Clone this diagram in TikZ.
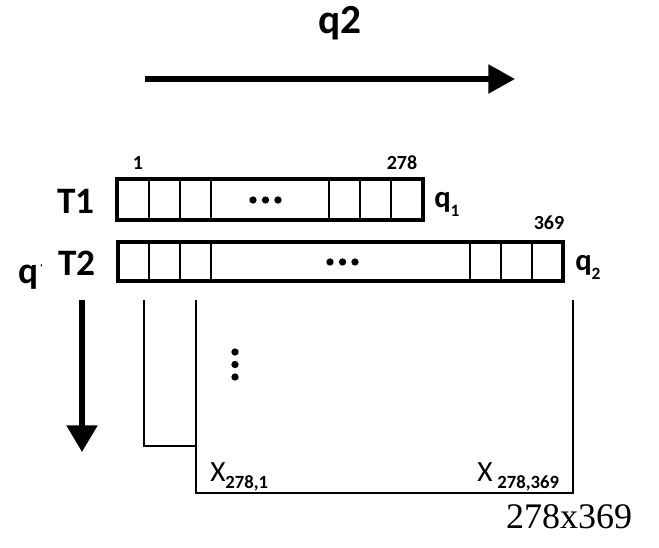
\documentclass[tikz,border=0pt]{standalone}
\usepackage{fontspec}
\newfontfamily\calfont{Carlito}
\newfontfamily\serfont{Liberation Serif}
\usetikzlibrary{arrows.meta}
\tikzset{
  big/.style={font=\calfont\bfseries\fontsize{28}{32}\selectfont, inner sep=0pt},
  idx/.style={font=\calfont\bfseries\fontsize{15}{17}\selectfont, inner sep=0pt},
  qlab/.style={font=\calfont\bfseries\fontsize{23}{26}\selectfont, inner sep=0pt},
  xlab/.style={font=\calfont\fontsize{22}{24}\selectfont, inner sep=0pt},
  strip/.style={line width=3pt},
  cell/.style={line width=0.9pt},
  frame/.style={line width=2pt},
  bigarrow/.style={line width=4pt, -{Triangle[length=20pt,width=21pt]}},
  dotmark/.style={circle, fill=black, inner sep=0pt, minimum size=5.5pt}
}
\newcommand{\lowsub}[1]{\raisebox{-0.32em}{\fontsize{13}{13}\selectfont #1}}
\newcommand{\xsub}[1]{\raisebox{-0.25em}{\bfseries\fontsize{14}{14}\selectfont #1}}
\begin{document}
\begin{tikzpicture}[x=0.75pt,y=-0.75pt]
\useasboundingbox (0,0) rectangle (659,547);

% top arrow and label
\node[big, font=\calfont\bfseries\fontsize{31}{34}\selectfont, anchor=base] (qtop) at (340,33) {q2};
\coordinate (ha) at (145,79);
\coordinate (hb) at (515,79);
\draw[bigarrow] (ha) -- (hb);

% left label q1 (partly hidden)
\node[big, anchor=base west] (qleft) at (18,283) {q1};

% left down arrow
\coordinate (va) at (82,300);
\coordinate (vb) at (82,452);
\draw[bigarrow, -{Triangle[length=20pt,width=22.5pt]}] (va) -- (vb);

% T1 strip
\coordinate (t1a) at (117,179);
\coordinate (t1b) at (423,220);
\foreach \x in {149,180,211,329,360,391}{\draw[cell] (\x,179) -- (\x,220);}
\draw[strip] (t1a) rectangle (t1b);
\foreach \x in {253,265.5,278}{\node[dotmark] at (\x,200) {};}
\node[big, anchor=base, fill=white] (t1lab) at (76,213) {T1};
\node[idx] (n1) at (138,163) {1};
\node[idx] (n278) at (402,163) {278};
\node[qlab, anchor=base west] (q1) at (434,207) {q\lowsub{1}};

% T2 strip
\coordinate (t2a) at (118,242);
\coordinate (t2b) at (563,281);
\foreach \x in {149,180,211,470,501,532}{\draw[cell] (\x,242) -- (\x,281);}
\draw[strip] (t2a) rectangle (t2b);
\foreach \x in {330,342.5,355}{\node[dotmark] at (\x,262) {};}
\node[big, anchor=base, fill=white, minimum width=53pt, minimum height=34pt, text depth=0pt] (t2lab) at (77,275) {T2};
\node[idx] (n369) at (549,223) {369};
\node[qlab, anchor=base west] (q2) at (575,270) {q\lowsub{2}};

% matrix frames
\draw[frame] (144,300) -- (144,446) -- (196,446);
\draw[frame] (196,300) -- (196,493) -- (573,493) -- (573,300);
\foreach \y in {352,364.5,377}{\node[dotmark] at (235,\y) {};}
\node[xlab, anchor=base west] (x1) at (210,481) {X\xsub{278,1}};
\node[xlab, anchor=base west] (x2) at (477,481) {X\,\xsub{278,369}};

\node[font=\serfont\fontsize{27}{30}\selectfont, inner sep=0pt] (dim) at (569,517) {278x369};
\end{tikzpicture}
\end{document}
